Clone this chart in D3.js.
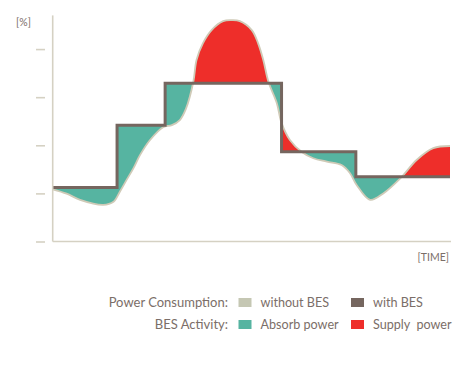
<!DOCTYPE html>
<html><head><meta charset="utf-8">
<script src="https://cdn.jsdelivr.net/npm/d3@7"></script>
<style>body{margin:0;background:#fff}svg{display:block}text{font-family:Lato,sans-serif}</style>
</head><body><svg id="c" width="468" height="370"></svg>
<script>
// Data (time units 0..100, power in %)
const withBesTime = [0, 16.2, 28.3, 57.6, 76.3, 100];
const withBesValue = [22.4, 48.3, 65.8, 37.3, 26.9, 26.9];
const withoutTime = [0, 3.5, 6.9, 12.7, 15.3, 16.9, 18.6, 20.3, 22.0, 24.5, 27.8, 30.0, 32.0, 33.5, 35.4, 36.2, 37.8, 40.0, 42.9, 45.1, 47.1, 50.1, 51.7, 53.0, 54.3, 56.4, 57.6, 59.7, 62.7, 65.6, 69.0, 72.7, 74.8, 76.5, 79.9, 83.2, 87.8, 91.6, 95.8, 100];
const withoutValue = [21.7, 19.9, 17.3, 15.2, 16.5, 20.7, 25.6, 30.4, 36.0, 42.2, 47.5, 48.4, 50.5, 55.0, 66.4, 75.5, 82.4, 87.9, 91.6, 92.0, 91.6, 87.9, 82.4, 75.5, 66.4, 57.6, 49.3, 42.2, 37.2, 34.6, 33.2, 31.8, 28.5, 23.5, 17.3, 20.0, 26.8, 33.9, 38.8, 39.7];
const yTicks = [0, 20, 40, 60, 80];
const legendRows = ["Power Consumption:", "BES Activity:"];
const legendItems = [
  [{label: "without BES", color: "#c5c7b3"}, {label: "with BES", color: "#75665f"}],
  [{label: "Absorb power", color: "#56b4a1"}, {label: "Supply  power", color: "#ee2e2a"}]
];

const svg = d3.select("#c");
const x = d3.scaleLinear().domain([0, 100]).range([52.7, 450]);
const y = d3.scaleLinear().domain([0, 94]).range([241.5, 15.4]);
const TEAL = "#56b4a1", RED = "#ee2e2a", STEP = "#75665f", CURVE = "#cfcab7", AXIS = "#d5d1c3", TXT = "#7b6e68";

const step = withBesTime.map((t, i) => [t, withBesValue[i]]);
const curve = withoutTime.map((t, i) => [t, withoutValue[i]]);
const cv = d3.curveCatmullRom.alpha(0.5);

const defs = svg.append("defs");
defs.append("clipPath").attr("id", "aboveStep").append("path")
  .attr("d", d3.area().x(d => x(d[0])).y0(y(94)).y1(d => y(d[1])).curve(d3.curveStepAfter)(step));
defs.append("clipPath").attr("id", "belowStep").append("path")
  .attr("d", d3.area().x(d => x(d[0])).y0(y(0)).y1(d => y(d[1])).curve(d3.curveStepAfter)(step));

// red: below curve & above step
svg.append("path").attr("clip-path", "url(#aboveStep)").attr("fill", RED)
  .attr("d", d3.area().x(d => x(d[0])).y0(y(0)).y1(d => y(d[1])).curve(cv)(curve));
// teal: above curve & below step
svg.append("path").attr("clip-path", "url(#belowStep)").attr("fill", TEAL)
  .attr("d", d3.area().x(d => x(d[0])).y0(y(94)).y1(d => y(d[1])).curve(cv)(curve));

// curve outline
svg.append("path").attr("fill", "none").attr("stroke", CURVE).attr("stroke-width", 1.8)
  .attr("d", d3.line().x(d => x(d[0])).y(d => y(d[1])).curve(cv)(curve));

// step line
svg.append("path").attr("fill", "none").attr("stroke", STEP).attr("stroke-width", 3)
  .attr("d", d3.line().x(d => x(d[0])).y(d => y(d[1])).curve(d3.curveStepAfter)(step));

// axes
svg.append("line").attr("x1", x(0)).attr("x2", x(0)).attr("y1", y(94)).attr("y2", y(0))
  .attr("stroke", AXIS).attr("stroke-width", 1.6);
svg.append("line").attr("x1", x(0)).attr("x2", x(100) + 1).attr("y1", y(0)).attr("y2", y(0))
  .attr("stroke", AXIS).attr("stroke-width", 1.6);
const ya = svg.append("g").attr("transform", "translate(45,0)")
  .call(d3.axisLeft(y).tickValues(yTicks).tickSize(9).tickFormat(""));
ya.select(".domain").remove();
ya.selectAll("line").attr("stroke", AXIS).attr("stroke-width", 1.6);

svg.append("text").attr("x", 16).attr("y", 26).attr("font-size", 10.5).attr("fill", TXT).text("[%]");
svg.append("text").attr("x", 449).attr("y", 261).attr("text-anchor", "end").attr("font-size", 10.5).attr("fill", TXT).text("[TIME]");

// legend
const rowY = [302.5, 324.5];
legendRows.forEach((r, i) => {
  svg.append("text").attr("x", 228).attr("y", rowY[i]).attr("text-anchor", "end")
    .attr("font-size", 13).attr("fill", TXT).attr("dy", "0.35em").style("white-space", "pre").text(r);
  legendItems[i].forEach((it, j) => {
    const sx = [238.5, 351][j];
    svg.append("rect").attr("x", sx).attr("y", rowY[i] - 4.5).attr("width", 13).attr("height", 9).attr("fill", it.color);
    svg.append("text").attr("x", sx + 22).attr("y", rowY[i]).attr("dy", "0.35em")
      .attr("font-size", 12.6).attr("fill", TXT).style("white-space", "pre").text(it.label);
  });
});
</script></body></html>
